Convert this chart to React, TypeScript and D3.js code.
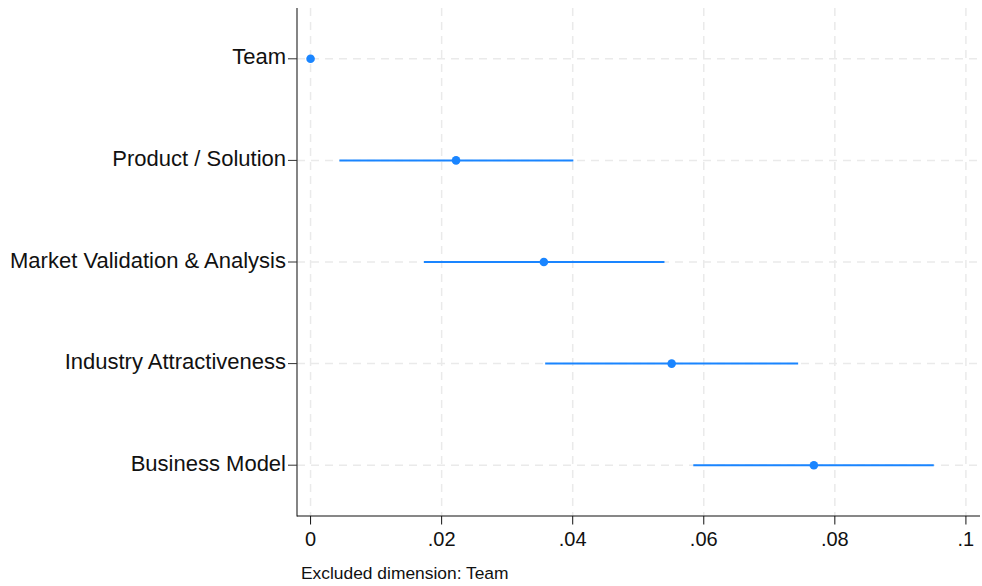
import React from "react";
import * as d3 from "d3";

const categories = ["Team", "Product / Solution", "Market Validation & Analysis", "Industry Attractiveness", "Business Model"];
const estimates = [0, 0.0222, 0.0356, 0.0551, 0.0768];
const lowerCI = [0, 0.0044, 0.0173, 0.0358, 0.0584];
const upperCI = [0, 0.0401, 0.0540, 0.0744, 0.0951];
const xTicks = [0, 0.02, 0.04, 0.06, 0.08, 0.1];
const xTickLabels = ["0", ".02", ".04", ".06", ".08", ".1"];
const note = "Excluded dimension: Team";

const W = 982, H = 586;
const left = 297, right = 980, top = 8, bottom = 516;
const blue = "#1a85ff";
const font = "Arial, 'Liberation Sans', Helvetica, sans-serif";

export default function App() {
  const x = d3.scaleLinear().domain([-0.00207, 0.10215]).range([left, right]);
  const y = d3.scaleLinear().domain([-0.5, categories.length - 0.5]).range([top, bottom]);
  return (
    <svg width={W} height={H} style={{ position: "absolute", left: 0, top: 0, background: "#fff" }}>
      <rect x={0} y={0} width={W} height={H} fill="#fff" />
      {xTicks.map((t, i) => (
        <line key={"gx" + i} x1={x(t)} x2={x(t)} y1={top} y2={bottom} stroke="#eaeaea" strokeWidth={1.5} strokeDasharray="8 6" />
      ))}
      {categories.map((c, i) => (
        <line key={"gy" + i} x1={left} x2={right} y1={y(i)} y2={y(i)} stroke="#eaeaea" strokeWidth={1.5} strokeDasharray="8 6" />
      ))}
      {categories.map((c, i) => (
        <line key={"ci" + i} x1={x(lowerCI[i])} x2={x(upperCI[i])} y1={y(i)} y2={y(i)} stroke={blue} strokeWidth={2} />
      ))}
      {categories.map((c, i) => (
        <circle key={"pt" + i} cx={x(estimates[i])} cy={y(i)} r={4.3} fill={blue} />
      ))}
      <line x1={left} x2={left} y1={top} y2={bottom + 0.5} stroke="#333" strokeWidth={1.2} />
      <line x1={left} x2={right} y1={bottom} y2={bottom} stroke="#111" strokeWidth={1.2} />
      {categories.map((c, i) => (
        <g key={"yt" + i}>
          <line x1={left - 9} x2={left} y1={y(i)} y2={y(i)} stroke="#333" strokeWidth={1} />
          <text x={left - 11} y={y(i) + 5.5} textAnchor="end" fontFamily={font} fontSize={22} fill="#111">{c}</text>
        </g>
      ))}
      {xTicks.map((t, i) => (
        <g key={"xt" + i}>
          <line x1={x(t)} x2={x(t)} y1={bottom} y2={bottom + 8.5} stroke="#111" strokeWidth={1} />
          <text x={x(t)} y={545.5} textAnchor="middle" fontFamily={font} fontSize={20} fill="#111">{xTickLabels[i]}</text>
        </g>
      ))}
      <text x={301} y={578.5} fontFamily={font} fontSize={17.4} fill="#111">{note}</text>
    </svg>
  );
}
